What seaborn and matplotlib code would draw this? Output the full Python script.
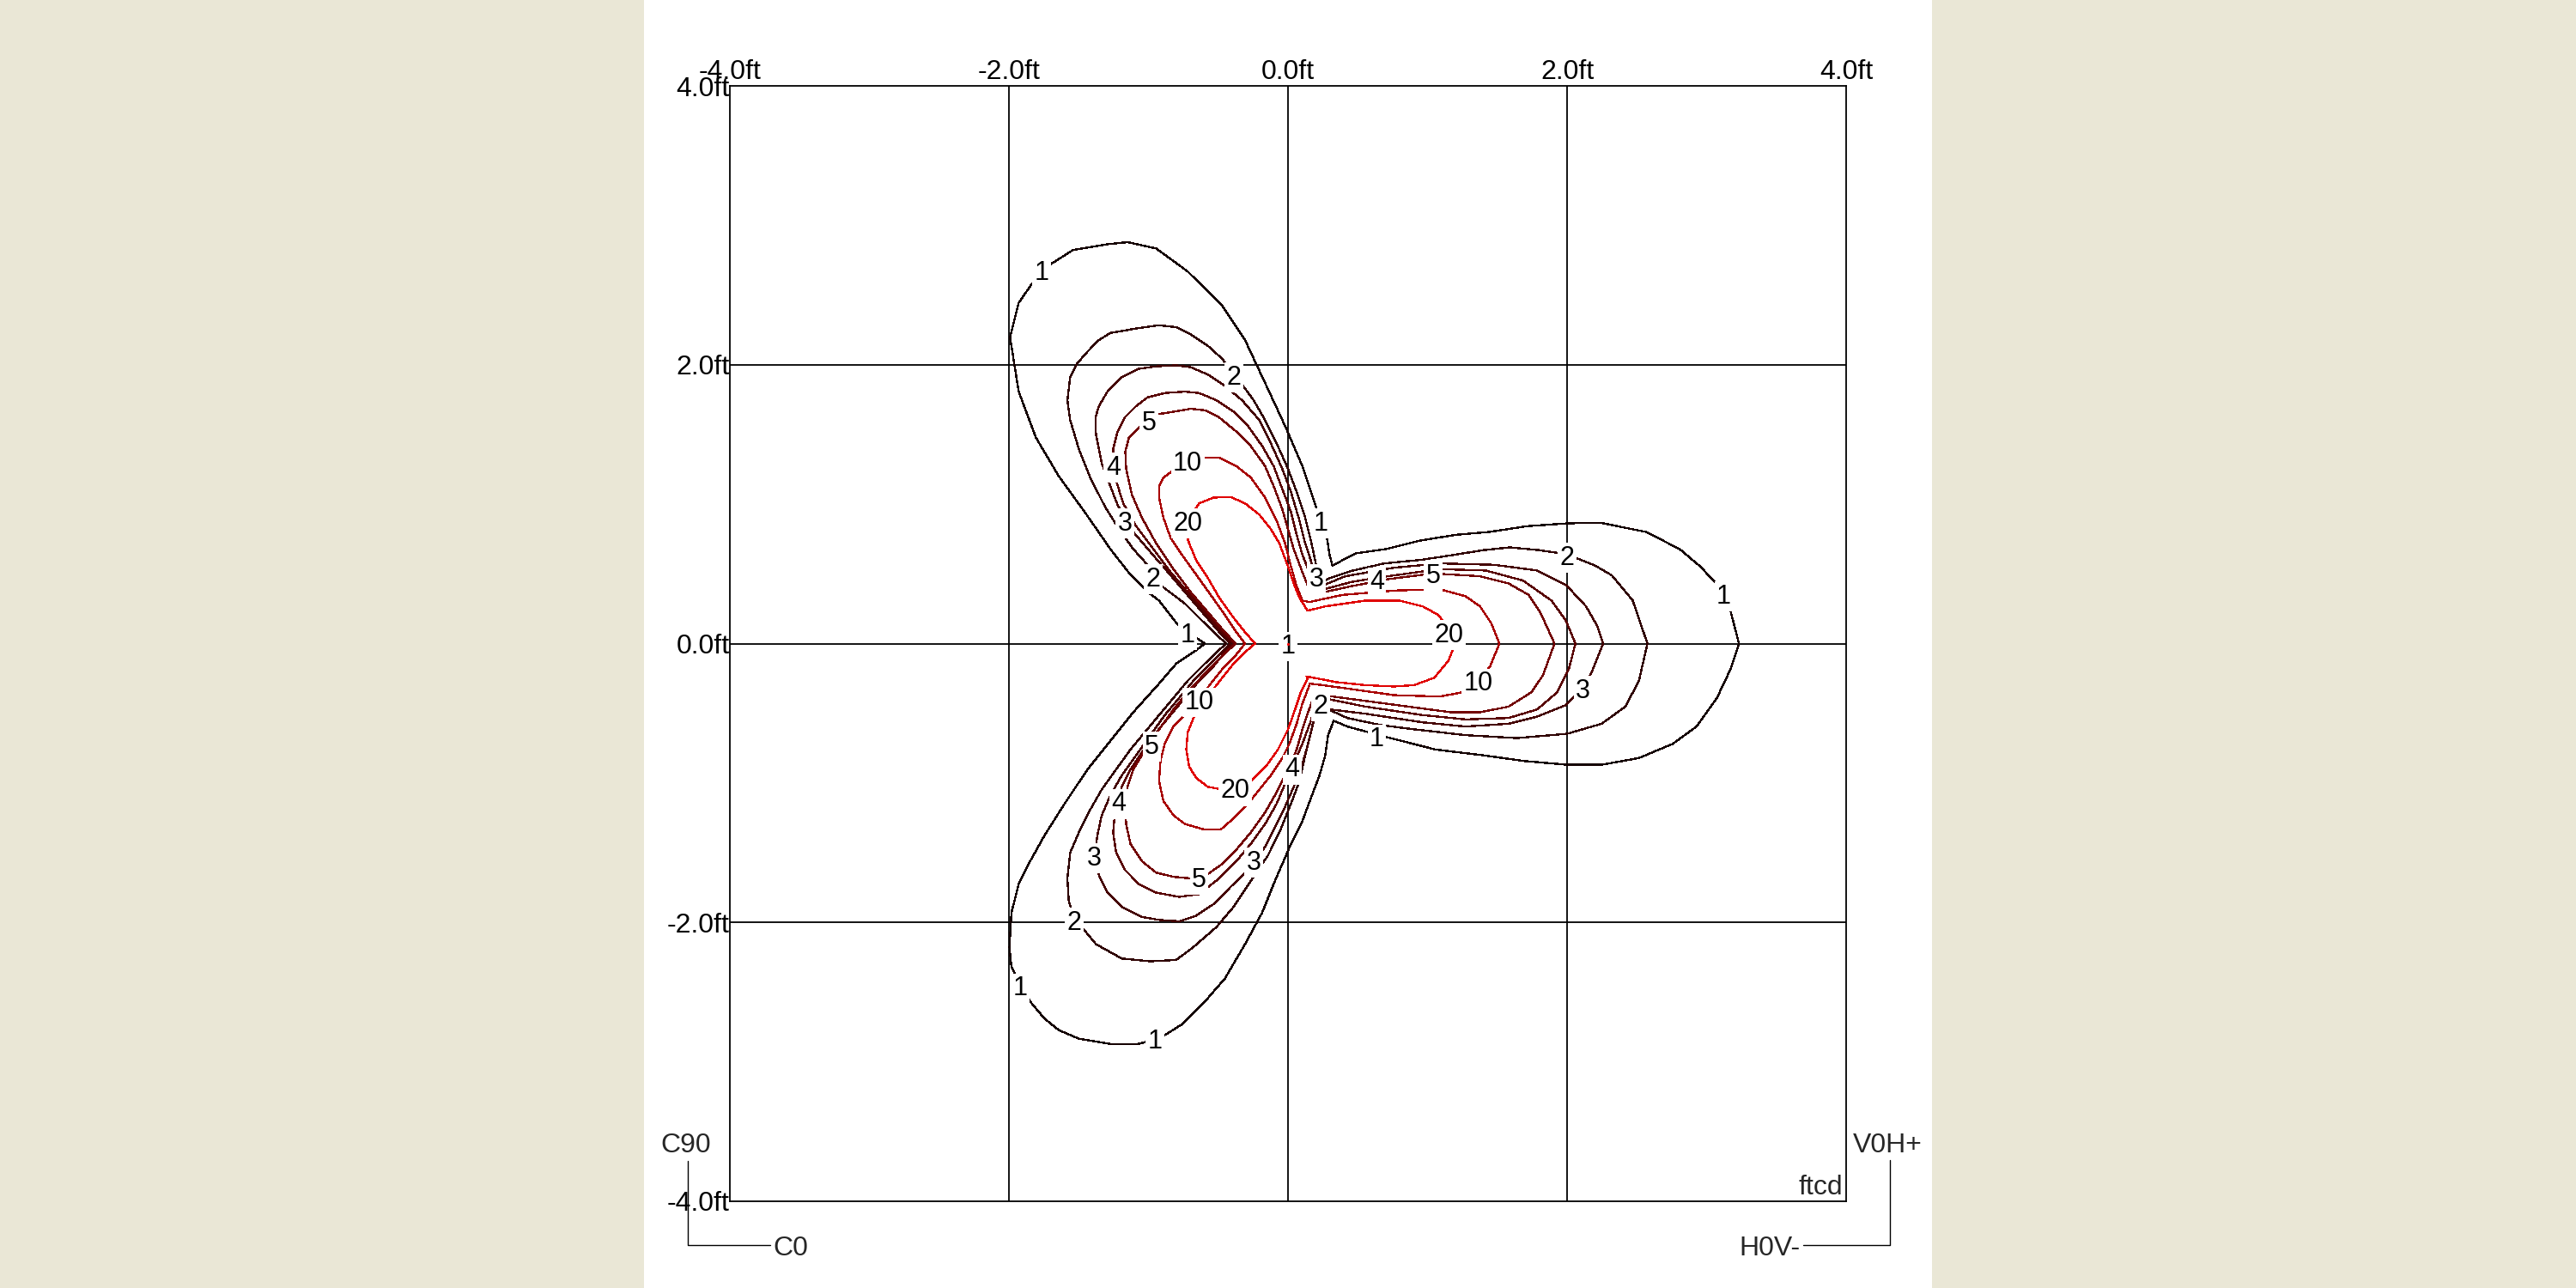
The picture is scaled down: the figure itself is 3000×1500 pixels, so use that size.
import pandas as pd
import matplotlib
matplotlib.use('Agg')  # headless
import matplotlib.pyplot as plt
from matplotlib.lines import Line2D
from matplotlib.patches import Rectangle
import seaborn as sns

sns.set_theme(style="white")
plt.rcParams['font.family'] = ['Liberation Sans', 'DejaVu Sans']

# --- isolux contours (ft); each level = upper, right, lower lobe ---
L1_UP = [(-0.595, 0.0), (-0.719, 0.082), (-0.780, 0.123), (-0.924, 0.308), (-1.006, 0.370), (-1.129, 0.493),
         (-1.273, 0.678), (-1.458, 0.945), (-1.643, 1.201), (-1.807, 1.478), (-1.930, 1.807), (-1.992, 2.197),
         (-1.930, 2.444), (-1.766, 2.680), (-1.540, 2.823), (-1.294, 2.864), (-1.150, 2.879), (-0.945, 2.834),
         (-0.719, 2.669), (-0.472, 2.423), (-0.308, 2.177), (-0.164, 1.869), (-0.021, 1.561), (0.103, 1.273),
         (0.195, 0.996), (0.236, 0.883), (0.277, 0.770), (0.298, 0.637), (0.318, 0.560)]
L1_RIGHT = [(0.486, 0.647), (0.705, 0.678), (0.948, 0.739), (1.203, 0.780), (1.446, 0.801), (1.713, 0.842),
            (2.0, 0.862), (2.236, 0.867), (2.564, 0.801), (2.807, 0.678), (2.953, 0.554), (3.05, 0.452),
            (3.123, 0.359), (3.171, 0.236), (3.232, 0.0), (3.171, -0.185), (3.074, -0.390), (2.928, -0.595),
            (2.758, -0.719), (2.515, -0.821), (2.248, -0.869), (2.0, -0.869), (1.689, -0.842), (1.397, -0.801),
            (1.057, -0.760), (0.692, -0.667), (0.425, -0.595), (0.328, -0.554)]
L1_LOW = [(0.287, -0.657), (0.267, -0.801), (0.226, -0.945), (0.164, -1.109), (0.103, -1.273), (0.021, -1.437),
          (-0.103, -1.725), (-0.185, -1.930), (-0.308, -2.156), (-0.452, -2.402), (-0.595, -2.567),
          (-0.760, -2.731), (-0.924, -2.834), (-1.088, -2.875), (-1.253, -2.875), (-1.499, -2.834),
          (-1.643, -2.772), (-1.745, -2.690), (-1.848, -2.567), (-1.920, -2.444), (-1.982, -2.320),
          (-1.996, -2.177), (-1.982, -1.930), (-1.930, -1.725), (-1.848, -1.561), (-1.745, -1.376),
          (-1.602, -1.150), (-1.437, -0.903), (-1.273, -0.698), (-1.109, -0.493), (-0.924, -0.287),
          (-0.801, -0.144), (-0.678, -0.062), (-0.595, 0.0)]

L2_UP = [(-0.441, 0.0), (-0.513, 0.062), (-0.637, 0.185), (-0.739, 0.287), (-0.903, 0.411), (-0.965, 0.483),
         (-1.016, 0.575), (-1.109, 0.678), (-1.211, 0.821), (-1.314, 0.986), (-1.417, 1.191), (-1.499, 1.396),
         (-1.561, 1.602), (-1.581, 1.745), (-1.561, 1.910), (-1.509, 2.012), (-1.437, 2.094), (-1.355, 2.177),
         (-1.273, 2.228), (-1.068, 2.263), (-0.924, 2.283), (-0.801, 2.269), (-0.698, 2.218), (-0.575, 2.136),
         (-0.472, 2.043), (-0.390, 1.930), (-0.329, 1.858), (-0.246, 1.745), (-0.164, 1.602), (-0.082, 1.437),
         (0.0, 1.253), (0.062, 1.088), (0.123, 0.903), (0.164, 0.739), (0.195, 0.595), (0.216, 0.472),
         (0.226, 0.431)]
L2_RIGHT = [(0.30, 0.47), (0.45, 0.52), (0.69, 0.575), (0.95, 0.60), (1.15, 0.63), (1.40, 0.67), (1.59, 0.69),
            (1.80, 0.67), (2.0, 0.64), (2.20, 0.56), (2.32, 0.49), (2.47, 0.31), (2.576, 0.0), (2.515, -0.267),
            (2.418, -0.452), (2.248, -0.575), (2.0, -0.647), (1.64, -0.678), (1.276, -0.657), (0.911, -0.616),
            (0.668, -0.585), (0.425, -0.534), (0.29, -0.472), (0.22, -0.44)]
L2_LOW = [(0.195, -0.493), (0.164, -0.637), (0.123, -0.801), (0.082, -0.986), (0.021, -1.150), (-0.062, -1.355),
          (-0.144, -1.520), (-0.267, -1.704), (-0.390, -1.889), (-0.513, -2.033), (-0.678, -2.177),
          (-0.801, -2.269), (-0.986, -2.279), (-1.191, -2.259), (-1.376, -2.156), (-1.478, -2.033),
          (-1.530, -1.971), (-1.571, -1.848), (-1.581, -1.684), (-1.561, -1.499), (-1.499, -1.355),
          (-1.417, -1.191), (-1.335, -1.047), (-1.232, -0.903), (-1.129, -0.760), (-1.027, -0.637),
          (-0.924, -0.513), (-0.821, -0.390), (-0.719, -0.267), (-0.616, -0.164), (-0.513, -0.062), (-0.441, 0.0)]

L3_UP = [(-0.411, 0.0), (-0.493, 0.082), (-0.616, 0.226), (-0.739, 0.370), (-0.862, 0.513), (-0.986, 0.657),
         (-1.109, 0.801), (-1.222, 0.996), (-1.273, 1.129), (-1.335, 1.294), (-1.376, 1.499), (-1.380, 1.622),
         (-1.355, 1.704), (-1.294, 1.807), (-1.191, 1.910), (-1.068, 1.971), (-0.945, 1.988), (-0.801, 1.996),
         (-0.698, 1.982), (-0.575, 1.930), (-0.452, 1.848), (-0.329, 1.745), (-0.205, 1.602), (-0.123, 1.437),
         (-0.041, 1.253), (0.021, 1.088), (0.082, 0.883), (0.123, 0.719), (0.164, 0.595), (0.195, 0.493),
         (0.216, 0.411)]
L3_RIGHT = [(0.226, 0.407), (0.411, 0.483), (0.760, 0.544), (1.088, 0.575), (1.478, 0.565), (1.786, 0.524),
            (1.992, 0.421), (2.136, 0.267), (2.218, 0.123), (2.259, 0.0), (2.177, -0.205), (2.115, -0.318),
            (1.992, -0.441), (1.786, -0.524), (1.581, -0.575), (1.273, -0.595), (0.965, -0.565), (0.554, -0.503),
            (0.298, -0.472), (0.226, -0.411)]
L3_LOW = [(0.216, -0.411), (0.185, -0.554), (0.144, -0.719), (0.103, -0.862), (0.041, -1.027), (-0.021, -1.170),
          (-0.103, -1.335), (-0.164, -1.458), (-0.308, -1.643), (-0.411, -1.745), (-0.534, -1.869),
          (-0.657, -1.951), (-0.780, -1.992), (-0.924, -1.982), (-1.047, -1.961), (-1.191, -1.889),
          (-1.294, -1.786), (-1.355, -1.663), (-1.386, -1.520), (-1.366, -1.376), (-1.335, -1.232),
          (-1.273, -1.088), (-1.191, -0.945), (-1.088, -0.801), (-0.986, -0.657), (-0.883, -0.513),
          (-0.780, -0.390), (-0.678, -0.267), (-0.575, -0.164), (-0.472, -0.062), (-0.411, 0.0)]

L4_UP = [(-0.390, 0.0), (-0.472, 0.082), (-0.595, 0.226), (-0.719, 0.370), (-0.842, 0.513), (-0.965, 0.678),
         (-1.088, 0.842), (-1.181, 1.006), (-1.232, 1.170), (-1.253, 1.283), (-1.253, 1.396), (-1.222, 1.520),
         (-1.170, 1.622), (-1.088, 1.704), (-1.006, 1.766), (-0.883, 1.797), (-0.739, 1.807), (-0.637, 1.797),
         (-0.513, 1.745), (-0.390, 1.663), (-0.287, 1.561), (-0.185, 1.417), (-0.103, 1.273), (-0.041, 1.109),
         (0.021, 0.945), (0.062, 0.780), (0.103, 0.637), (0.144, 0.534), (0.195, 0.411), (0.23, 0.39)]
L4_RIGHT = [(0.246, 0.386), (0.452, 0.441), (0.637, 0.472), (1.088, 0.534), (1.417, 0.524), (1.684, 0.452),
            (1.889, 0.308), (1.992, 0.164), (2.060, 0.0), (2.012, -0.185), (1.930, -0.349), (1.786, -0.472),
            (1.581, -0.534), (1.273, -0.544), (0.965, -0.513), (0.554, -0.452), (0.246, -0.390)]
L4_LOW = [(0.205, -0.390), (0.164, -0.554), (0.103, -0.719), (0.041, -0.862), (-0.021, -1.006), (-0.082, -1.150),
          (-0.164, -1.294), (-0.267, -1.437), (-0.370, -1.561), (-0.493, -1.684), (-0.637, -1.797),
          (-0.780, -1.817), (-0.945, -1.786), (-1.068, -1.725), (-1.170, -1.622), (-1.232, -1.499),
          (-1.253, -1.355), (-1.242, -1.232), (-1.211, -1.129), (-1.191, -1.027), (-1.129, -0.903),
          (-1.047, -0.780), (-0.945, -0.637), (-0.842, -0.513), (-0.739, -0.390), (-0.637, -0.267),
          (-0.534, -0.164), (-0.452, -0.062), (-0.390, 0.0)]

L5_UP = [(-0.374, 0.0), (-0.452, 0.082), (-0.575, 0.226), (-0.698, 0.370), (-0.821, 0.534), (-0.945, 0.719),
         (-1.047, 0.903), (-1.119, 1.068), (-1.160, 1.253), (-1.166, 1.376), (-1.140, 1.478), (-1.068, 1.550),
         (-0.945, 1.643), (-0.821, 1.663), (-0.698, 1.684), (-0.595, 1.673), (-0.493, 1.622), (-0.370, 1.520),
         (-0.267, 1.417), (-0.164, 1.273), (-0.103, 1.129), (-0.041, 0.965), (0.0, 0.821), (0.041, 0.678),
         (0.103, 0.513), (0.144, 0.411), (0.185, 0.370)]
L5_RIGHT = [(0.246, 0.366), (0.452, 0.411), (0.719, 0.462), (1.037, 0.503), (1.376, 0.483), (1.581, 0.431),
            (1.725, 0.349), (1.807, 0.226), (1.910, 0.0), (1.828, -0.226), (1.745, -0.349), (1.581, -0.452),
            (1.376, -0.493), (1.170, -0.493), (0.862, -0.452), (0.554, -0.411), (0.246, -0.370)]
L5_LOW = [(0.185, -0.380), (0.144, -0.493), (0.103, -0.616), (0.062, -0.760), (0.0, -0.903), (-0.082, -1.068),
          (-0.164, -1.211), (-0.267, -1.355), (-0.370, -1.478), (-0.472, -1.581), (-0.575, -1.653),
          (-0.698, -1.684), (-0.821, -1.673), (-0.945, -1.643), (-1.047, -1.561), (-1.129, -1.437),
          (-1.160, -1.294), (-1.166, -1.170), (-1.150, -1.027), (-1.109, -0.903), (-1.047, -0.801),
          (-0.924, -0.616), (-0.821, -0.472), (-0.719, -0.349), (-0.616, -0.236), (-0.513, -0.133),
          (-0.431, -0.051), (-0.374, 0.0)]

L10_UP = [(-0.308, 0.0), (-0.370, 0.082), (-0.452, 0.205), (-0.554, 0.349), (-0.657, 0.493), (-0.760, 0.637),
          (-0.842, 0.760), (-0.893, 0.903), (-0.924, 1.047), (-0.924, 1.129), (-0.893, 1.191), (-0.821, 1.242),
          (-0.719, 1.314), (-0.616, 1.335), (-0.493, 1.335), (-0.370, 1.273), (-0.267, 1.191), (-0.164, 1.047),
          (-0.082, 0.883), (-0.021, 0.719), (0.021, 0.554), (0.062, 0.411), (0.103, 0.308), (0.154, 0.298)]
L10_RIGHT = [(0.390, 0.349), (0.760, 0.380), (1.088, 0.390), (1.273, 0.339), (1.376, 0.267), (1.458, 0.144),
             (1.515, 0.0), (1.448, -0.164), (1.366, -0.267), (1.253, -0.349), (1.088, -0.380), (0.760, -0.370),
             (0.472, -0.329), (0.246, -0.298), (0.154, -0.287)]
L10_LOW = [(0.154, -0.298), (0.103, -0.431), (0.062, -0.575), (0.010, -0.719), (-0.041, -0.821),
           (-0.123, -0.945), (-0.205, -1.047), (-0.287, -1.150), (-0.390, -1.253), (-0.483, -1.335),
           (-0.595, -1.335), (-0.739, -1.294), (-0.821, -1.232), (-0.893, -1.129), (-0.924, -0.986),
           (-0.914, -0.842), (-0.883, -0.719), (-0.821, -0.595), (-0.719, -0.493), (-0.637, -0.400),
           (-0.554, -0.287), (-0.472, -0.185), (-0.390, -0.103), (-0.308, 0.0)]

L20_UP = [(-0.236, 0.0), (-0.308, 0.082), (-0.390, 0.185), (-0.493, 0.329), (-0.575, 0.472), (-0.657, 0.595),
          (-0.708, 0.719), (-0.729, 0.780), (-0.720, 0.883), (-0.637, 1.006), (-0.534, 1.047), (-0.411, 1.051),
          (-0.308, 1.006), (-0.205, 0.924), (-0.123, 0.821), (-0.062, 0.719), (0.0, 0.554), (0.041, 0.431),
          (0.082, 0.329), (0.140, 0.236)]
L20_RIGHT = [(0.267, 0.267), (0.554, 0.308), (0.801, 0.308), (0.965, 0.267), (1.078, 0.205), (1.170, 0.082),
             (1.191, -0.021), (1.150, -0.123), (1.047, -0.246), (0.903, -0.298), (0.760, -0.308),
             (0.554, -0.298), (0.349, -0.277), (0.246, -0.257), (0.133, -0.236)]
L20_LOW = [(0.144, -0.246), (0.092, -0.349), (0.051, -0.472), (0.0, -0.616), (-0.072, -0.760), (-0.144, -0.862),
           (-0.267, -0.986), (-0.380, -1.037), (-0.472, -1.047), (-0.575, -1.027), (-0.657, -0.965),
           (-0.708, -0.883), (-0.729, -0.760), (-0.719, -0.637), (-0.678, -0.534), (-0.616, -0.431),
           (-0.472, -0.246), (-0.390, -0.144), (-0.308, -0.062), (-0.236, 0.0)]

LEVELS = [1, 2, 3, 4, 5, 10, 20]
LEVEL_COLORS = ['#140000', '#2e0000', '#440000', '#580000', '#720000', '#a80000', '#e00000']
LEVEL_PARTS = [
    (L1_UP, L1_RIGHT, L1_LOW), (L2_UP, L2_RIGHT, L2_LOW), (L3_UP, L3_RIGHT, L3_LOW),
    (L4_UP, L4_RIGHT, L4_LOW), (L5_UP, L5_RIGHT, L5_LOW), (L10_UP, L10_RIGHT, L10_LOW),
    (L20_UP, L20_RIGHT, L20_LOW),
]

# contour labels
LABEL_TEXT = ['1', '2', '5', '4', '10', '3', '20', '2', '1', '3', '1',
              '4', '5', '2', '20', '10', '3', '2', '1', '1',
              '10', '5', '4', '3', '2', '20', '5', '3', '4', '1', '1', '1']
LABEL_X = [-1.766, -0.390, -0.996, -1.253, -0.719, -1.170, -0.719, -0.965, 0.236, 0.205, -0.719,
           0.637, 1.041, 2.0, 1.154, 1.366, 2.115, 0.236, 0.637, 3.123,
           -0.637, -0.975, -1.211, -1.386, -1.530, -0.380, -0.637, -0.246, 0.031, -1.920, -0.955, 0.0]
LABEL_Y = [2.680, 1.930, 1.602, 1.283, 1.314, 0.883, 0.883, 0.483, 0.883, 0.483, 0.082,
           0.462, 0.503, 0.637, 0.082, -0.267, -0.318, -0.431, -0.667, 0.359,
           -0.400, -0.719, -1.129, -1.520, -1.982, -1.037, -1.673, -1.550, -0.883, -2.454, -2.834, 0.0]

TICKS = [-4, -2, 0, 2, 4]
GRID = [-2, 0, 2]

W, H = 3000, 1500
fig = plt.figure(figsize=(W / 100, H / 100), dpi=100, facecolor='#EAE7D6')
fig.add_artist(Rectangle((750 / W, 0), 1500 / W, 1, transform=fig.transFigure,
                         facecolor='white', edgecolor='none', zorder=0))

ax = fig.add_axes([850 / W, (H - 1399) / H, 1300 / W, 1299 / H])
ax.set_facecolor('white')
ax.set_xlim(-4, 4)
ax.set_ylim(-4, 4)

for v in GRID:
    ax.axvline(v, color='black', lw=1.3, zorder=1)
    ax.axhline(v, color='black', lw=1.3, zorder=1)

for lev, col, parts in zip(LEVELS, LEVEL_COLORS, LEVEL_PARTS):
    pts = [p for part in parts for p in part]
    pts.append(pts[0])
    df = pd.DataFrame(pts, columns=['x', 'y'])
    sns.lineplot(data=df, x='x', y='y', sort=False, estimator=None, color=col,
                 lw=0.95, antialiased=False, ax=ax, zorder=2)

for t, x, y in zip(LABEL_TEXT, LABEL_X, LABEL_Y):
    ax.text(x, y, t, ha='center', va='center_baseline', fontsize=22, color='black', zorder=4,
            bbox=dict(boxstyle='square,pad=0.08', fc='white', ec='none'))
ax.scatter([0], [0], s=5, color='red', zorder=5, linewidths=0)

ax.set_xticks(TICKS)
ax.set_yticks(TICKS)
ax.set_xticklabels([f"{v:.1f}ft" for v in TICKS])
ax.set_yticklabels([f"{v:.1f}ft" for v in TICKS])
ax.xaxis.tick_top()
ax.tick_params(axis='x', length=0, labelsize=23, pad=1, colors='black')
ax.tick_params(axis='y', length=0, labelsize=23, pad=0, colors='black')
ax.set_xlabel('')
ax.set_ylabel('')
for s in ax.spines.values():
    s.set_color('black')
    s.set_linewidth(1.3)
    s.set_visible(True)

ax.text(0.997, 0.006, 'ftcd', transform=ax.transAxes, ha='right', va='baseline', fontsize=23)

# corner orientation markers
def fx(px):
    return px / W

def fy(py):
    return 1 - py / H

fig.add_artist(Line2D([fx(801), fx(801), fx(897)], [fy(1352), fy(1450), fy(1450)],
                      transform=fig.transFigure, color='black', lw=1.0))
fig.add_artist(Line2D([fx(2201), fx(2201), fx(2100)], [fy(1351), fy(1450), fy(1450)],
                      transform=fig.transFigure, color='black', lw=1.0))
fig.text(fx(799), fy(1331), 'C90', ha='center', va='center_baseline', fontsize=23)
fig.text(fx(900), fy(1450), 'C0', ha='left', va='center_baseline', fontsize=23)
fig.text(fx(2198), fy(1331), 'V0H+', ha='center', va='center_baseline', fontsize=23)
fig.text(fx(2097), fy(1450), 'H0V-', ha='right', va='center_baseline', fontsize=23)

fig.savefig('out.png', dpi=100, facecolor=fig.get_facecolor())
plt.close(fig)
